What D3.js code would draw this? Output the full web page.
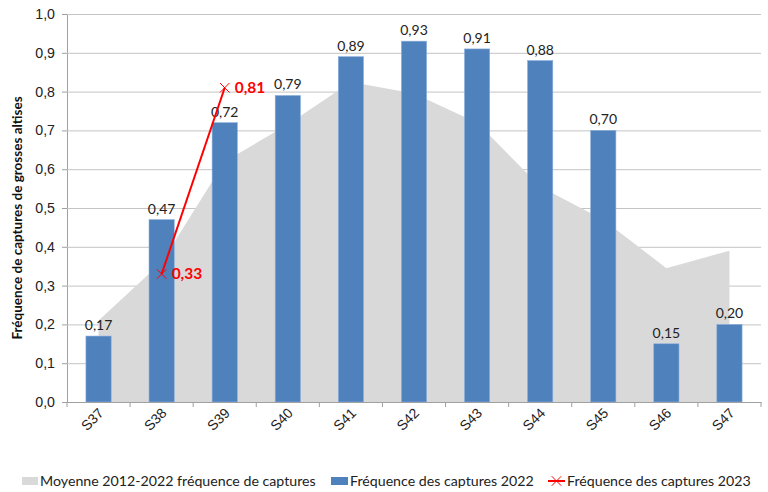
<!DOCTYPE html>
<html>
<head>
<meta charset="utf-8">
<script src="https://cdn.jsdelivr.net/npm/d3@7"></script>
<style>
  html, body { margin: 0; padding: 0; background: #fff; }
  svg { display: block; font-family: Lato, "Open Sans", sans-serif; }
</style>
</head>
<body>
<svg id="chart"></svg>
<script>
// ---- data ----
const weeks = ["S37", "S38", "S39", "S40", "S41", "S42", "S43", "S44", "S45", "S46", "S47"];
const moyenne = [0.21, 0.36, 0.62, 0.715, 0.825, 0.795, 0.72, 0.555, 0.47, 0.345, 0.39];
const freq2022 = [0.17, 0.47, 0.72, 0.79, 0.89, 0.93, 0.91, 0.88, 0.70, 0.15, 0.20];
const freq2023 = [null, 0.33, 0.81, null, null, null, null, null, null, null, null];
const yTicks = [0, 0.1, 0.2, 0.3, 0.4, 0.5, 0.6, 0.7, 0.8, 0.9, 1.0];
const legendLabels = [
  "Moyenne 2012-2022 fréquence de captures",
  "Fréquence des captures 2022",
  "Fréquence des captures 2023"
];

const W = 768, H = 492;
const M = { top: 14, right: 7, bottom: 90, left: 67 };

const fr = d3.formatLocale({ decimal: ",", thousands: " ", grouping: [3], currency: ["", " €"] });
const f1 = fr.format(".1f");
const f2 = fr.format(".2f");

const svg = d3.select("#chart").attr("width", W).attr("height", H);

const x = d3.scaleBand()
  .domain(weeks)
  .range([M.left, W - M.right])
  .paddingInner(0.6)
  .paddingOuter(0.3);
const cx = d => x(d) + x.bandwidth() / 2;

const y = d3.scaleLinear().domain([0, 1]).range([H - M.bottom, M.top]);

// gridlines + y axis
const yAxis = svg.append("g")
  .attr("transform", `translate(${M.left},0)`)
  .call(d3.axisLeft(y).tickValues(yTicks).tickFormat(f1).tickSize(5).tickPadding(7));
yAxis.select(".domain").attr("stroke", "#a0a0a0");
yAxis.selectAll(".tick line").attr("stroke", "#a0a0a0");
yAxis.selectAll(".tick text").attr("font-size", 14.2).attr("fill", "#222");
yAxis.selectAll(".tick").filter(d => d > 0).append("line")
  .attr("x1", 0).attr("x2", W - M.right - M.left)
  .attr("stroke", "#c4c4c4");

// area : moyenne
const area = d3.area()
  .x((d, i) => cx(weeks[i]))
  .y0(y(0))
  .y1(d => y(d));
svg.append("path").datum(moyenne)
  .attr("d", area)
  .attr("fill", "#d9d9d9");

// bars 2022
svg.append("g").selectAll("rect")
  .data(freq2022)
  .join("rect")
  .attr("x", (d, i) => x(weeks[i]))
  .attr("y", d => y(d))
  .attr("width", x.bandwidth())
  .attr("height", d => y(0) - y(d))
  .attr("fill", "#4f81bd")
  .attr("stroke", "#8cb0dc")
  .attr("stroke-width", 0.6);

svg.append("g").selectAll("text")
  .data(freq2022)
  .join("text")
  .attr("x", (d, i) => cx(weeks[i]))
  .attr("y", d => y(d) - 6)
  .attr("text-anchor", "middle")
  .attr("font-size", 14)
  .attr("fill", "#222")
  .text(d => f2(d));

// x axis
const xAxis = svg.append("g")
  .attr("transform", `translate(0,${y(0)})`)
  .call(d3.axisBottom(x).tickSize(0).tickPadding(0));
xAxis.select(".domain").attr("stroke", "#a0a0a0");
xAxis.selectAll(".tick text")
  .attr("font-size", 14)
  .attr("fill", "#222")
  .attr("text-anchor", "end")
  .attr("dy", null)
  .attr("transform", "translate(6,12) rotate(-45)");
const bounds = weeks.map(w => cx(w) - x.step() / 2).concat([cx(weeks[weeks.length - 1]) + x.step() / 2]);
xAxis.selectAll(".sep").data(bounds).join("line")
  .attr("x1", d => d).attr("x2", d => d)
  .attr("y1", 0).attr("y2", 5)
  .attr("stroke", "#a0a0a0");

// line 2023
const pts2023 = freq2023.map((v, i) => ({ w: weeks[i], v })).filter(d => d.v != null);
svg.append("path").datum(pts2023)
  .attr("d", d3.line().x(d => cx(d.w)).y(d => y(d.v)))
  .attr("fill", "none")
  .attr("stroke", "#ff0000")
  .attr("stroke-width", 2);

const cross = d3.symbol().type(d3.symbolTimes).size(60);
svg.append("g").selectAll("path")
  .data(pts2023)
  .join("path")
  .attr("d", cross)
  .attr("transform", d => `translate(${cx(d.w)},${y(d.v)})`)
  .attr("fill", "none")
  .attr("stroke", "#ff0000")
  .attr("stroke-width", 1);

svg.append("g").selectAll("text")
  .data(pts2023)
  .join("text")
  .attr("x", d => cx(d.w) + 10)
  .attr("y", d => y(d.v) + 5)
  .attr("font-size", 15.5)
  .attr("font-weight", "bold")
  .attr("fill", "#ff0000")
  .text(d => f2(d.v));

// y title
svg.append("text")
  .attr("transform", `translate(22,${(M.top + y(0)) / 2 + 10}) rotate(-90)`)
  .attr("text-anchor", "middle")
  .attr("font-size", 13.5)
  .attr("font-weight", "bold")
  .attr("fill", "#111")
  .text("Fréquence de captures de grosses altises");

// legend
const ly = 481;
const lg = svg.append("g").attr("font-size", 14.2).attr("fill", "#222");
lg.append("rect").attr("x", 22).attr("y", ly - 4).attr("width", 16).attr("height", 8).attr("fill", "#d9d9d9");
lg.append("text").attr("x", 40).attr("y", ly + 5).text(legendLabels[0]);
lg.append("rect").attr("x", 331).attr("y", ly - 4).attr("width", 17).attr("height", 8).attr("fill", "#4f81bd");
lg.append("text").attr("x", 350).attr("y", ly + 5).text(legendLabels[1]);
lg.append("line").attr("x1", 548).attr("x2", 565).attr("y1", ly).attr("y2", ly).attr("stroke", "#ff0000").attr("stroke-width", 2);
lg.append("path").attr("d", cross).attr("transform", `translate(556.5,${ly})`)
  .attr("fill", "none").attr("stroke", "#ff0000").attr("stroke-width", 1);
lg.append("text").attr("x", 567).attr("y", ly + 5).text(legendLabels[2]);
</script>
</body>
</html>
